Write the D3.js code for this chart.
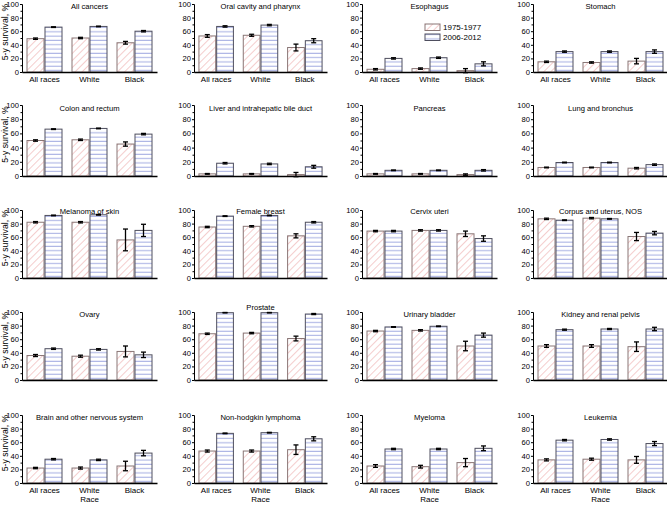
<!DOCTYPE html>
<html><head><meta charset="utf-8">
<script src="https://cdn.jsdelivr.net/npm/d3@7"></script>
<style>
body{margin:0;background:#fff}
svg{display:block}
</style>
</head><body>
<svg id="c" width="667" height="505"></svg>
<script>
// ---------- DATA ----------
const sites = [
  "All cancers","Oral cavity and pharynx","Esophagus","Stomach",
  "Colon and rectum","Liver and intrahepatic bile duct","Pancreas","Lung and bronchus",
  "Melanoma of skin","Female breast","Cervix uteri","Corpus and uterus, NOS",
  "Ovary","Prostate","Urinary bladder","Kidney and renal pelvis",
  "Brain and other nervous system","Non-hodgkin lymphoma","Myeloma","Leukemia"
];
const races = ["All races","White","Black"];
const periods = ["1975-1977","2006-2012"];
const yTicks = [0,20,40,60,80,100];
// 5-y survival, % : [All races, White, Black]
const early = [
  [49,50,43],[53,54,36],[4,5,2],[15,14,16],
  [50,51,45],[3,3,2],[3,3,2],[12,12,11],
  [82,82,56],[75,76,62],[69,70,65],[87,88,61],
  [36,35,42],[68,69,61],[72,73,50],[50,50,49],
  [22,22,25],[47,47,49],[25,24,30],[34,35,34]
];
const earlyErr = [
  [1,1,2],[2,1.5,5],[1,1,3],[1,1,4],
  [1,1,3],[0.5,0.5,3],[0.5,0.5,1],[0.5,0.5,1],
  [1,1,16],[1,1,3],[1,1,4],[1,1,6],
  [1.5,1.5,8],[1,1,3.5],[1,1,7],[2,2,7],
  [1,1.5,7],[1.5,1.5,7],[2,2,6],[1.5,1.5,5]
];
const recent = [
  [66,67,60],[67,69,46],[20,21,12],[30,30,30],
  [66,67,59],[18,17,13],[8,8,8],[19,19,16],
  [92,93,70],[91,92,82],[69,70,58],[85,87,66],
  [46,45,37],[99,99,97],[78,79,66],[74,75,75],
  [35,34,44],[73,74,65],[50,50,51],[63,64,58]
];
const recentErr = [
  [0.5,0.5,1],[1,1,3],[1,1,3],[1,1,2.5],
  [0.5,0.5,1],[1,1,2],[0.5,0.5,1],[0.5,0.5,1],
  [0.5,0.5,9],[0.5,0.5,1],[1,1,4],[0.5,0.5,2.5],
  [1,1,4],[0.3,0.3,0.8],[0.5,0.5,3],[0.8,0.8,2.5],
  [1,1,4],[0.5,0.5,3],[1,1,3.5],[1,1,3]
];

// ---------- LAYOUT ----------
const FONT = "Liberation Sans, Arial, sans-serif";
const colX = [22,194,362,533];
const colW = [135,133,135,135];
const rowTop = [4,105,210,312,415];
const rowH = [68,71,68,68,68];
const titleDy = [5,6,4,5,5];

const svg = d3.select("#c").style("font-family",FONT);
const defs = svg.append("defs");
const p1 = defs.append("pattern").attr("id","hatchA").attr("patternUnits","userSpaceOnUse")
  .attr("width",5).attr("height",5).attr("patternTransform","rotate(45)");
p1.append("rect").attr("width",5).attr("height",5).attr("fill","#fff");
p1.append("line").attr("x1",0).attr("y1",0).attr("x2",0).attr("y2",5)
  .attr("stroke","#eba4a4").attr("stroke-width",1.1);
const p2 = defs.append("pattern").attr("id","hatchB").attr("patternUnits","userSpaceOnUse")
  .attr("width",6).attr("height",4.3);
p2.append("rect").attr("width",6).attr("height",4.3).attr("fill","#fff");
p2.append("line").attr("x1",0).attr("y1",2).attr("x2",6).attr("y2",2)
  .attr("stroke","#a4ace2").attr("stroke-width",1);

const fills = ["url(#hatchA)","url(#hatchB)"];
const strokes = ["#8a7676","#4e4e5e"];

function txt(sel){ return sel.style("font-family",FONT).attr("fill","#000"); }

sites.forEach((site,i)=>{
  const r = Math.floor(i/4), c = i%4;
  const w = colW[c], h = rowH[r];
  const g = svg.append("g").attr("transform",`translate(${colX[c]},${rowTop[r]})`);
  const y = d3.scaleLinear().domain([0,100]).range([h,0]);
  const x = d3.scaleBand().domain(races).range([0,w]).paddingInner(0.2).paddingOuter(0.1);
  const xs = d3.scaleBand().domain(periods).range([0,x.bandwidth()]).padding(0);

  const vals = [early[i],recent[i]];
  const errs = [earlyErr[i],recentErr[i]];
  periods.forEach((p,k)=>{
    races.forEach((rc,j)=>{
      const bx = x(rc)+xs(p), bw = xs.bandwidth();
      g.append("rect").attr("x",bx+0.5).attr("y",y(vals[k][j]))
        .attr("width",bw-1).attr("height",h-y(vals[k][j]))
        .attr("fill",fills[k]).attr("stroke",strokes[k]).attr("stroke-width",1);
      const cx = bx+bw/2, v=vals[k][j], e=errs[k][j];
      const eg = g.append("g").attr("stroke","#000").attr("stroke-width",1.3);
      eg.append("line").attr("x1",cx).attr("x2",cx).attr("y1",y(v-e)).attr("y2",y(v+e));
      eg.append("line").attr("x1",cx-2.5).attr("x2",cx+2.5).attr("y1",y(v-e)).attr("y2",y(v-e));
      eg.append("line").attr("x1",cx-2.5).attr("x2",cx+2.5).attr("y1",y(v+e)).attr("y2",y(v+e));
    });
  });

  // y axis
  const ya = g.append("g").call(d3.axisLeft(y).tickValues(yTicks).tickSize(2).tickPadding(1));
  ya.attr("font-family",null);
  ya.select(".domain").attr("stroke","#000");
  txt(ya.selectAll("text")).attr("font-size",7.6);
  g.append("g").call(d3.axisLeft(y).tickValues([10,30,50,70,90]).tickSize(1.5).tickFormat(""))
    .select(".domain").remove();

  // x axis
  const xa = g.append("g").attr("transform",`translate(0,${h})`)
    .call(d3.axisBottom(x).tickSize(0).tickPadding(4));
  xa.attr("font-family",null);
  xa.select(".domain").attr("stroke","#000").attr("stroke-width",1.4);
  txt(xa.selectAll("text")).attr("font-size",8);
  if(r!==0 && r!==4) xa.selectAll("text").remove();

  // title
  txt(g.append("text")).attr("x",w/2).attr("y",(site==="Prostate"?-2:titleDy[r]))
    .attr("text-anchor","middle").attr("font-size",7.6).text(site);

  if(c===0){
    txt(svg.append("text")).attr("transform",`translate(7.5,${rowTop[r]+h/2-6}) rotate(-90)`)
      .attr("text-anchor","middle").attr("font-size",8.7).text("5-y survival, %");
  }
  if(r===4){
    txt(g.append("text")).attr("x",w/2).attr("y",h+19).attr("text-anchor","middle")
      .attr("font-size",8).text("Race");
  }
  if(site==="Esophagus"){
    const lg = g.append("g").attr("transform","translate(63,20)");
    periods.forEach((p,k)=>{
      lg.append("rect").attr("x",0).attr("y",k*10).attr("width",15).attr("height",6.5)
        .attr("fill",fills[k]).attr("stroke",strokes[k]).attr("stroke-width",1);
      txt(lg.append("text")).attr("x",18).attr("y",k*10+6).attr("font-size",8).text(p);
    });
  }
});
</script>
</body></html>
